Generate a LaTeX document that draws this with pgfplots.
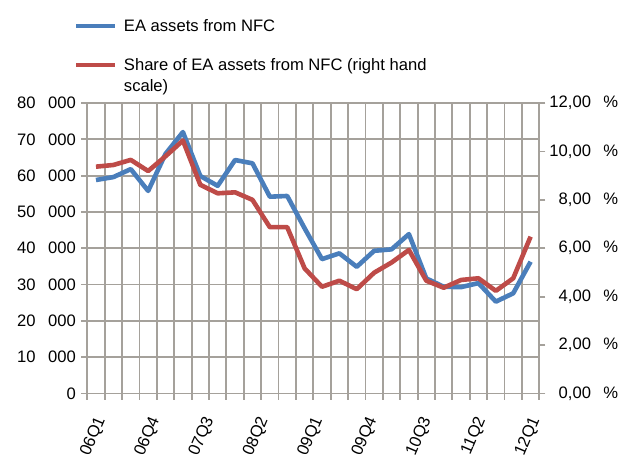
\documentclass[border=0pt]{standalone}
\usepackage{fontspec}
\setmainfont{Liberation Sans}
\usepackage{pgfplots}
\usepackage{pgfplotstable}
\pgfplotsset{compat=1.18}
\definecolor{eablue}{HTML}{4A7EBB}
\definecolor{eared}{HTML}{BE4B48}
\definecolor{gridc}{HTML}{A5A19B}
\pgfplotstableread{
idx assets share
0 58800 9.37
1 59600 9.44
2 61800 9.65
3 55800 9.19
4 66000 9.80
5 72000 10.45
6 59900 8.62
7 57200 8.27
8 64300 8.31
9 63400 8.00
10 54200 6.87
11 54400 6.87
12 45500 5.17
13 37000 4.41
14 38600 4.66
15 34900 4.31
16 39300 4.99
17 39700 5.41
18 43900 5.93
19 31700 4.66
20 29400 4.37
21 29300 4.69
22 30400 4.76
23 25300 4.24
24 27600 4.76
25 36300 6.48
}\datatable
\newcommand{\tf}{\fontsize{8.3}{10.5}\selectfont}
\newcommand{\wsp}{\hspace{0.75em}}
\pgfplotsset{
  common/.style={
    scale only axis, width=226pt, height=145.25pt,
    xmin=-0.5, xmax=25.5,
    tick align=outside,
    major tick length=3pt, minor tick length=3pt,
    tick style={gridc, line width=0.9pt},
    ticklabel style={font=\tf, text=black},
    axis line style={gridc, line width=0.9pt},
  }
}
\begin{document}
\begin{tikzpicture}
\path[use as bounding box] (-43.65pt,-31.75pt) rectangle (267.35pt,196.75pt);
\begin{axis}[common,
  ymin=0, ymax=80000,
  axis y line*=left, axis x line*=bottom,
  ytick={0,10000,...,80000},
  yticklabels={0,10\wsp000,20\wsp000,30\wsp000,40\wsp000,50\wsp000,60\wsp000,70\wsp000,80\wsp000},
  yticklabel style={xshift=0.8pt},
  scaled y ticks=false,
  xtick={0,3.125,6.25,9.375,12.5,15.625,18.75,21.875,25},
  xticklabels={06Q1,06Q4,07Q3,08Q2,09Q1,09Q4,10Q3,11Q2,12Q1},
  major x tick style={draw=none},
  minor xtick={-0.5,0.5,...,25.5},
  xminorgrids=true, ymajorgrids=true,
  grid style={gridc, line width=0.9pt},
  minor grid style={gridc, line width=0.9pt},
  xticklabel style={xshift=2.7pt, yshift=-9pt, rotate=67, anchor=east, inner sep=0pt},
  clip=false,
]
\addplot[eablue, line width=2.3pt, line join=round] table[x=idx, y=assets] {\datatable};
\end{axis}
\begin{axis}[common,
  ymin=0, ymax=12,
  axis x line=none, axis y line*=right,
  ytick={0,2,...,12},
  yticklabels={{0,00\wsp\%},{2,00\wsp\%},{4,00\wsp\%},{6,00\wsp\%},{8,00\wsp\%},{10,00\wsp\%},{12,00\wsp\%}},
  yticklabel style={anchor=east, xshift=40pt},
  clip=false,
  legend style={at={(-0.0295,1.302)}, anchor=north west, draw=none, fill=none,
    inner sep=0pt, outer sep=0pt, font=\tf, row sep=6.6pt, column sep=1.2pt,
    cells={anchor=base west}},
  legend image code/.code={\draw[#1, line width=2.3pt] (0pt,2.6pt) -- (19.5pt,2.6pt);},
]
\addlegendimage{eablue}
\addlegendentry{EA assets from NFC}
\addplot[eared, line width=2.3pt, line join=round] table[x=idx, y=share] {\datatable};
\addlegendentry{\begin{tabular}[t]{@{}l@{}}Share of EA assets from NFC (right hand\\scale)\end{tabular}}
\end{axis}
\end{tikzpicture}
\end{document}
